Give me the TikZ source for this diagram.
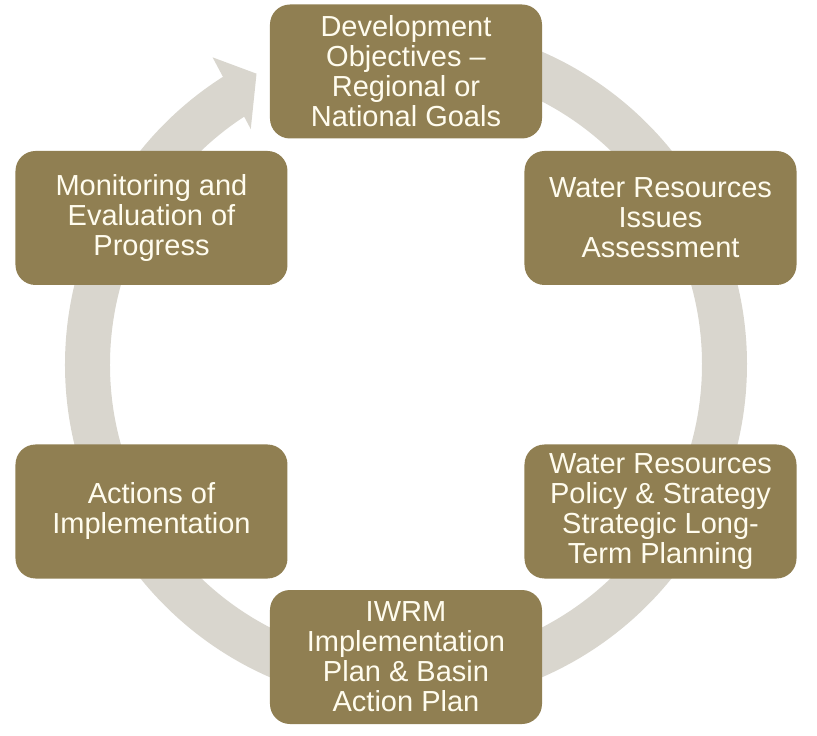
\documentclass[tikz,border=0pt]{standalone}
\usepackage{fontspec}
\setmainfont{Liberation Sans}
\usepackage{tikz}

\definecolor{boxgold}{RGB}{144,127,82}
\definecolor{boxtext}{RGB}{255,252,238}
\definecolor{ringgray}{RGB}{217,214,206}

\begin{document}
\begin{tikzpicture}[x=1pt,y=1pt,
    stage/.style={fill=boxgold,
        rounded corners=20pt,
        minimum width=272pt,
        minimum height=134pt,
        inner sep=0pt,
        align=center,
        text=boxtext,
        font=\fontsize{29}{30}\selectfont}]

\useasboundingbox (-406,-371.5) rectangle (411,364.5);

\coordinate (O) at (0,0);

\draw [ringgray,
    line width=45pt] (O) ++(88:318.5) arc [start angle=88, end angle=-237.6, radius=318.5];
\fill [ringgray] (122.2:363) -- (117.2:327) -- (123.4:282) -- cycle;

\node [stage] (dev) at (0,293)
    {Development\\Objectives –\\Regional or\\National Goals};

\node [stage] (issues) at (254.5,146.5)
    {Water Resources\\Issues\\Assessment};

\node [stage] (policy) at (254.5,-147)
    {Water Resources\\Policy \& Strategy\\Strategic Long-\\Term Planning};

\node [stage] (iwrm) at (0,-292.5)
    {IWRM\\Implementation\\Plan \& Basin\\Action Plan};

\node [stage] (actions) at (-254.5,-147)
    {Actions of\\Implementation};

\node [stage] (monitor) at (-254.5,146.5)
    {Monitoring and\\Evaluation of\\Progress};

\end{tikzpicture}
\end{document}
